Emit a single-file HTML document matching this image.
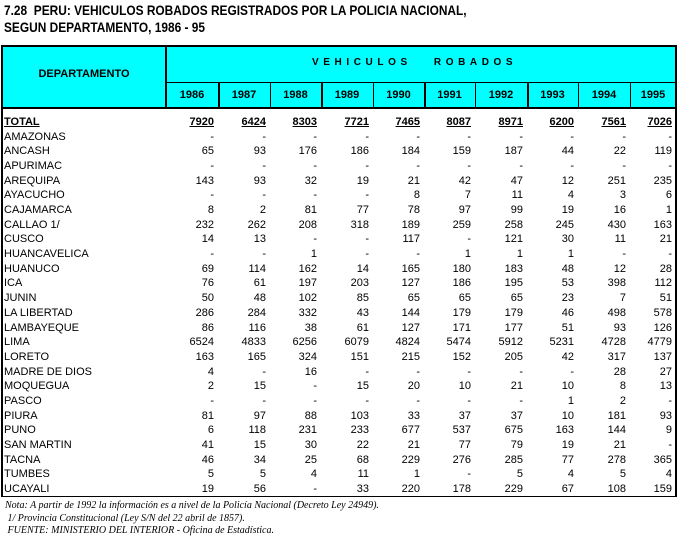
<!DOCTYPE html>
<html><head><meta charset="utf-8"><style>
body{margin:0;width:677px;height:540px;background:#fff;position:relative;overflow:hidden;font-family:"Liberation Sans",Arial,sans-serif;color:#000}
.t{position:absolute;left:4px;font-weight:bold;font-size:14px;white-space:nowrap;transform-origin:0 0;transform:scaleX(0.85)}
.c{position:absolute;font-size:11px;white-space:nowrap;line-height:14px}
.note{position:absolute;left:5px;font-family:"Liberation Serif",serif;font-style:italic;font-size:10px;white-space:nowrap}
</style></head><body>
<div class="t" style="top:2px">7.28&nbsp; PERU: VEHICULOS ROBADOS REGISTRADOS POR LA POLICIA NACIONAL,</div>
<div class="t" style="top:19px">SEGUN DEPARTAMENTO, 1986 - 95</div>
<div id="tbl"></div>
<div class="note" style="top:500px">Nota: A partir de 1992 la información es a nivel de la Policía Nacional (Decreto Ley 24949).</div>
<div class="note" style="top:513px">&nbsp;1/ Provincia Constitucional (Ley S/N del 22 abril de 1857).</div>
<div class="note" style="top:525px">&nbsp;FUENTE: MINISTERIO DEL INTERIOR - Oficina de Estadística.</div>
<script>
const years=["1986","1987","1988","1989","1990","1991","1992","1993","1994","1995"];
const depts=["TOTAL","AMAZONAS","ANCASH","APURIMAC","AREQUIPA","AYACUCHO","CAJAMARCA","CALLAO  1/","CUSCO","HUANCAVELICA","HUANUCO","ICA","JUNIN","LA LIBERTAD","LAMBAYEQUE","LIMA","LORETO","MADRE DE DIOS","MOQUEGUA","PASCO","PIURA","PUNO","SAN MARTIN","TACNA","TUMBES","UCAYALI"];
const values=[
["7920","6424","8303","7721","7465","8087","8971","6200","7561","7026"],
["-","-","-","-","-","-","-","-","-","-"],
["65","93","176","186","184","159","187","44","22","119"],
["-","-","-","-","-","-","-","-","-","-"],
["143","93","32","19","21","42","47","12","251","235"],
["-","-","-","-","8","7","11","4","3","6"],
["8","2","81","77","78","97","99","19","16","1"],
["232","262","208","318","189","259","258","245","430","163"],
["14","13","-","-","117","-","121","30","11","21"],
["-","-","1","-","-","1","1","1","-","-"],
["69","114","162","14","165","180","183","48","12","28"],
["76","61","197","203","127","186","195","53","398","112"],
["50","48","102","85","65","65","65","23","7","51"],
["286","284","332","43","144","179","179","46","498","578"],
["86","116","38","61","127","171","177","51","93","126"],
["6524","4833","6256","6079","4824","5474","5912","5231","4728","4779"],
["163","165","324","151","215","152","205","42","317","137"],
["4","-","16","-","-","-","-","-","28","27"],
["2","15","-","15","20","10","21","10","8","13"],
["-","-","-","-","-","-","-","1","2","-"],
["81","97","88","103","33","37","37","10","181","93"],
["6","118","231","233","677","537","675","163","144","9"],
["41","15","30","22","21","77","79","19","21","-"],
["46","34","25","68","229","276","285","77","278","365"],
["5","5","4","11","1","-","5","4","5","4"],
["19","56","-","33","220","178","229","67","108","159"]];
const colX=[166,218,270,321,373,424,475,527,578,630,676];
const T=document.getElementById('tbl');
function add(tag,style,text){const e=document.createElement(tag);e.style.cssText=style;if(text!==undefined)e.textContent=text;T.appendChild(e);return e;}
let h=add('div','position:absolute;left:1px;top:46px;width:675px;height:62px;background:#00ffff');


const L='position:absolute;background:#000;';
add('div',L+'left:1px;top:45px;width:676px;height:2px');
add('div',L+'left:1px;top:107px;width:676px;height:2px');
add('div',L+'left:166px;top:82px;width:511px;height:1px');
add('div',L+'left:1px;top:496px;width:676px;height:1px');
add('div',L+'left:1px;top:45px;width:2px;height:452px');
add('div',L+'left:675px;top:45px;width:2px;height:452px');
add('div',L+'left:165px;top:45px;width:2px;height:63px');
for(let i=1;i<colX.length-1;i++){const w=(i==1||i==3||i==5||i==7)?2:1;add('div',L+'left:'+colX[i]+'px;top:83px;width:'+w+'px;height:25px');}
let d=add('div','position:absolute;left:3px;top:68px;width:162px;text-align:center;font-weight:bold;font-size:11px','DEPARTAMENTO');


let vr=add('div','position:absolute;left:312px;top:57px;font-weight:bold;font-size:10px;letter-spacing:4.6px;white-space:pre','VEHICULOS   ROBADOS');


years.forEach((y,i)=>{const e=add('div','position:absolute;top:89px;left:'+colX[i]+'px;width:'+(colX[i+1]-colX[i])+'px;text-align:center;font-weight:bold;font-size:11px',y);

});
const top0=115,rh=14.68;
depts.forEach((dn,r)=>{const y=top0+r*rh;
 const b=r==0?'font-weight:bold;text-decoration:underline;':'';
 const e=add('div','top:'+y+'px;left:4px;'+b,dn);e.className='c';
 
 
 values[r].forEach((v,i)=>{const c=add('div','top:'+y+'px;left:'+colX[i]+'px;width:'+(colX[i+1]-colX[i]-4)+'px;text-align:right;'+b,v);c.className='c';
  
  });
});
</script>
</body></html>
